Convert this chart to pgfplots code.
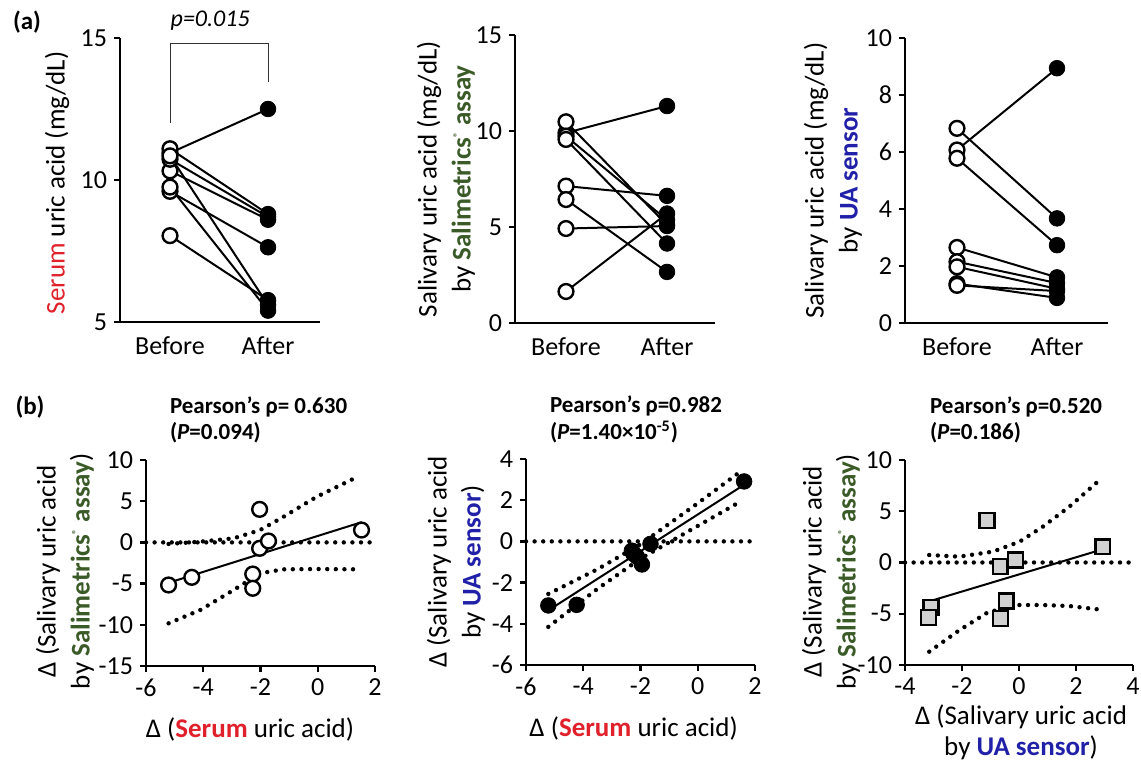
\documentclass[border=0pt]{standalone}
\usepackage{fontspec}
\setmainfont{Carlito}
\usepackage{pgfplots}
\pgfplotsset{compat=1.18}

\definecolor{serumred}{HTML}{E0202A}
\definecolor{saligreen}{HTML}{3A5A28}
\definecolor{uablue}{HTML}{2020A8}

\pgfplotsset{
  panel/.style={
    scale only axis, axis lines=left,
    axis line style={-, line width=1.2pt},
    tick align=outside, major tick length=3pt,
    tick style={black, line width=1.2pt},
    tick label style={font=\fontsize{13}{15}\selectfont},
    /pgf/number format/assume math mode=true,
    label style={font=\fontsize{13.5}{17}\selectfont, align=center},
    clip=false, anchor=south west,
  },
  apanel/.style={panel, xtick={1,2}, xticklabels={Before,After},
    xtick style={draw=none}, xticklabel style={yshift=-1pt}},
  pair/.style={black, line width=1pt, forget plot},
  open/.style={only marks, mark=*, mark size=3.7pt,
    mark options={fill=white, draw=black, line width=1.2pt}},
  filled/.style={only marks, mark=*, mark size=3.9pt,
    mark options={fill=black, draw=black}},
  sq/.style={only marks, mark=square*, mark size=3.7pt,
    mark options={fill=black!18, draw=black, line width=1.2pt}},
  ci/.style={black, line width=2.2pt, line cap=round, dash pattern=on 0pt off 4.3pt},
  fit/.style={black, line width=1pt},
}
\newcommand{\ttl}[3]{%
  \node[anchor=west, font=\bfseries\fontsize{11.5}{13}\selectfont] at (axis description cs:#1,1.257) {#2};
  \node[anchor=west, font=\bfseries\fontsize{11.5}{13}\selectfont] at (axis description cs:#1,1.131) {#3};}

\begin{document}
\begin{tikzpicture}
\useasboundingbox (0,0) rectangle (570.5pt,382pt);
\node[font=\bfseries\fontsize{12.5}{14}\selectfont] at (13.5pt,371pt) {(a)};
\node[font=\bfseries\fontsize{12.5}{14}\selectfont] at (15pt,178.5pt) {(b)};

% ---------- (a) serum ----------
\begin{axis}[apanel, at={(60pt,221pt)}, width=100pt, height=142pt,
  xmin=0.49, xmax=2.53, ymin=5, ymax=15, ytick={5,10,15},
  ylabel={{\color{serumred}Serum} uric acid (mg/dL)},
  ylabel style={at={(axis description cs:-0.315,0.49)}, anchor=center}]
\addplot[pair] coordinates {(1,10.95) (2,12.5)};
\addplot[pair] coordinates {(1,10.32) (2,8.6)};
\addplot[pair] coordinates {(1,10.73) (2,8.7)};
\addplot[pair] coordinates {(1,9.6) (2,7.63)};
\addplot[pair] coordinates {(1,11.1) (2,8.8)};
\addplot[pair] coordinates {(1,8.04) (2,5.77)};
\addplot[pair] coordinates {(1,9.75) (2,5.4)};
\addplot[pair] coordinates {(1,10.85) (2,5.6)};
\addplot[open] coordinates {(1,10.95) (1,10.32) (1,10.73) (1,9.6) (1,11.1) (1,8.04) (1,9.75) (1,10.85)};
\addplot[filled] coordinates {(2,12.5) (2,8.6) (2,8.7) (2,7.63) (2,8.8) (2,5.77) (2,5.4) (2,5.6)};
\draw[black!80, line width=0.5pt] (axis cs:1,12.0) -- (axis cs:1,14.82) -- (axis cs:2,14.82) -- (axis cs:2,13.45);
\node[font=\itshape\fontsize{12}{13}\selectfont] at (axis cs:1.41,15.6) {p=0.015};
\end{axis}

% ---------- (a) Salimetrics ----------
\begin{axis}[apanel, at={(257.5pt,220.5pt)}, width=100pt, height=144pt,
  xmin=0.495, xmax=2.475, ymin=0, ymax=15, ytick={0,5,10,15},
  ylabel={Salivary uric acid (mg/dL)\\by {\bfseries\color{saligreen}Salimetrics\textsuperscript{\tiny ®}\ assay}},
  ylabel style={at={(axis description cs:-0.345,0.5)}, anchor=center}]
\addplot[pair] coordinates {(1,9.9) (2,11.3)};
\addplot[pair] coordinates {(1,1.64) (2,5.7)};
\addplot[pair] coordinates {(1,4.92) (2,5.05)};
\addplot[pair] coordinates {(1,7.13) (2,6.62)};
\addplot[pair] coordinates {(1,6.43) (2,2.66)};
\addplot[pair] coordinates {(1,10.48) (2,5.1)};
\addplot[pair] coordinates {(1,9.73) (2,5.36)};
\addplot[pair] coordinates {(1,9.56) (2,4.14)};
\addplot[open] coordinates {(1,9.9) (1,1.64) (1,4.92) (1,7.13) (1,6.43) (1,10.48) (1,9.73) (1,9.56)};
\addplot[filled] coordinates {(2,11.3) (2,5.7) (2,5.05) (2,6.62) (2,2.66) (2,5.1) (2,5.36) (2,4.14)};
\end{axis}

% ---------- (a) UA sensor ----------
\begin{axis}[apanel, at={(452.5pt,220.5pt)}, width=101.5pt, height=142.5pt,
  xmin=0.48, xmax=2.51, ymin=0, ymax=10, ytick={0,2,4,6,8,10},
  ylabel={Salivary uric acid (mg/dL)\\by {\bfseries\color{uablue}UA sensor}},
  ylabel style={at={(axis description cs:-0.355,0.5)}, anchor=center}]
\addplot[pair] coordinates {(1,6.07) (2,8.94)};
\addplot[pair] coordinates {(1,6.83) (2,3.67)};
\addplot[pair] coordinates {(1,5.78) (2,2.73)};
\addplot[pair] coordinates {(1,2.65) (2,1.6)};
\addplot[pair] coordinates {(1,2.15) (2,1.4)};
\addplot[pair] coordinates {(1,1.97) (2,1.2)};
\addplot[pair] coordinates {(1,1.38) (2,0.88)};
\addplot[pair] coordinates {(1,1.32) (2,1.12)};
\addplot[open] coordinates {(1,6.07) (1,6.83) (1,5.78) (1,2.65) (1,2.15) (1,1.97) (1,1.38) (1,1.32)};
\addplot[filled] coordinates {(2,8.94) (2,3.67) (2,2.73) (2,1.6) (2,1.4) (2,1.2) (2,0.88) (2,1.12)};
\end{axis}

% ---------- (b) serum vs Salimetrics ----------
\begin{axis}[panel, at={(73pt,49pt)}, width=114.5pt, height=103pt,
  xmin=-6, xmax=2, ymin=-15, ymax=10, xtick={-6,-4,...,2}, ytick={-15,-10,...,10},
  ylabel={Δ (Salivary uric acid\\by {\bfseries\color{saligreen}Salimetrics\textsuperscript{\tiny ®}\ assay})},
  ylabel style={at={(axis description cs:-0.354,0.46)}, anchor=center},
  xlabel={Δ ({\bfseries\color{serumred}Serum} uric acid)},
  xlabel style={at={(axis description cs:0.454,-0.31)}, anchor=center}]
\addplot[ci] coordinates {(-6,0) (2,0)};
\addplot[ci] coordinates {(-5.21,-0.19) (-4.1,0.09) (-2.94,0.49) (-2.01,1.5) (-1.2,3.1) (-0.03,5.55) (1.45,8.06)};
\addplot[ci] coordinates {(-5.21,-9.82) (-4.1,-8.2) (-2.94,-5.78) (-2.01,-3.75) (-1.2,-3.27) (-0.03,-3.23) (1.4,-3.27)};
\addplot[fit] coordinates {(-5.21,-4.9) (1.53,2.45)};
\addplot[open] coordinates {(-5.21,-5.17) (-4.4,-4.24) (-2.03,4.01) (-2.27,-3.84) (-2.27,-5.57) (-2.03,-0.72) (-1.72,0.17) (1.53,1.5)};
\ttl{0.074}{Pearson’s ρ= 0.630}{(\textit{P}=0.094)}
\end{axis}

% ---------- (b) serum vs UA sensor ----------
\begin{axis}[panel, at={(263pt,49.5pt)}, width=114.5pt, height=103pt,
  xmin=-6, xmax=2, ymin=-6, ymax=4, xtick={-6,-4,...,2}, ytick={-6,-4,...,4},
  ylabel={Δ (Salivary uric acid\\by {\bfseries\color{uablue}UA sensor})},
  ylabel style={at={(axis description cs:-0.306,0.5)}, anchor=center},
  xlabel={Δ ({\bfseries\color{serumred}Serum} uric acid)},
  xlabel style={at={(axis description cs:0.47,-0.306)}, anchor=center}]
\addplot[ci] coordinates {(-6,0) (2,0)};
\addplot[ci] coordinates {(-5.22,-2.55) (-3.5,-1.35) (-2,-0.14) (0,1.85) (1.6,3.5)};
\addplot[ci] coordinates {(-5.22,-4.15) (-3.5,-2.3) (-2,-0.84) (0,0.75) (1.45,1.9)};
\addplot[fit] coordinates {(-5.22,-3.35) (1.62,2.75)};
\addplot[filled] coordinates {(-5.22,-3.11) (-4.23,-3.08) (-2.3,-0.45) (-2.25,-0.6) (-2.13,-0.73) (-1.95,-1.12) (-1.65,-0.12) (1.62,2.91)};
\ttl{0.074}{Pearson’s ρ=0.982}{(\textit{P}=1.40×10\textsuperscript{-5})}
\end{axis}

% ---------- (b) UA sensor vs Salimetrics ----------
\begin{axis}[panel, at={(452.5pt,49.5pt)}, width=114pt, height=102.5pt,
  xmin=-4, xmax=4, ymin=-10, ymax=10, xtick={-4,-2,...,4}, ytick={-10,-5,...,10},
  ylabel={Δ (Salivary uric acid\\by {\bfseries\color{saligreen}Salimetrics\textsuperscript{\tiny ®}\ assay})},
  ylabel style={at={(axis description cs:-0.325,0.455)}, anchor=center},
  xlabel={Δ (Salivary uric acid\\by {\bfseries\color{uablue}UA sensor})},
  xlabel style={at={(axis description cs:0.509,-0.33)}, anchor=center,
    font=\fontsize{13.5}{15.5}\selectfont}]
\addplot[ci] coordinates {(-4,0) (4,0)};
\addplot[ci] coordinates {(-3.15,0.73) (-2.09,0.57) (-0.92,1.06) (0.02,2.03) (0.84,3.5) (1.77,5.45) (2.77,7.9)};
\addplot[ci] coordinates {(-3.15,-8.7) (-2.09,-6.6) (-1.15,-4.96) (-0.22,-4.15) (0.84,-4.15) (1.77,-4.25) (2.77,-4.57)};
\addplot[fit] coordinates {(-3.1,-3.75) (2.94,1.29)};
\addplot[sq] coordinates {(-3.09,-4.4) (-3.17,-5.35) (-1.12,4.08) (-0.66,-0.4) (-0.12,0.24) (-0.45,-3.76) (-0.65,-5.45) (2.94,1.54)};
\ttl{0.079}{Pearson’s ρ=0.520}{(\textit{P}=0.186)}
\end{axis}
\end{tikzpicture}
\end{document}
